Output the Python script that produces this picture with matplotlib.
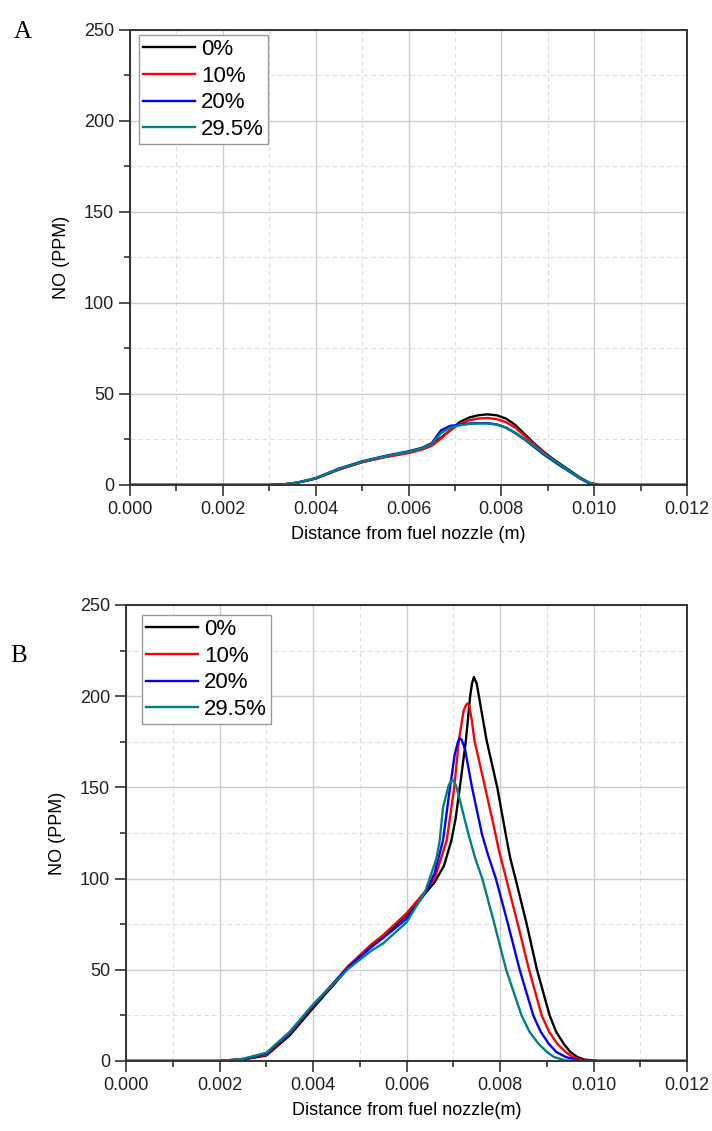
import matplotlib
matplotlib.use("Agg")
import matplotlib.pyplot as plt
from matplotlib.ticker import MultipleLocator, FormatStrFormatter

plt.rcParams['font.family'] = ['Liberation Sans', 'DejaVu Sans']

labels = ['0%', '10%', '20%', '29.5%']
colors = ['#000000', '#ff0000', '#0000ff', '#008080']

# Panel A: NO (ppm) vs distance, shared x grid
xa = [0, 0.0030, 0.0033, 0.0036, 0.0040, 0.0045, 0.0050, 0.0055, 0.0060, 0.0063,
      0.0065, 0.0067, 0.0069, 0.0071, 0.0073, 0.0075, 0.0077, 0.0079, 0.0081, 0.0083,
      0.0085, 0.0087, 0.0089, 0.0091, 0.0093, 0.0095, 0.0097, 0.0099, 0.0101, 0.0120]
a_0 = [0, 0, 0.3, 1.2, 3.5, 8.5, 12.5, 15.5, 18.0, 20.0, 22.0, 26.0, 30.0, 34.5, 37.0,
       38.3, 38.8, 38.3, 36.5, 33.0, 28.0, 23.0, 18.5, 14.5, 11.0, 7.5, 4.0, 1.2, 0, 0]
a_10 = [0, 0, 0.3, 1.2, 3.5, 8.5, 12.5, 15.3, 17.5, 19.5, 21.5, 25.5, 30.0, 33.5, 35.5,
        36.5, 36.8, 36.2, 34.5, 31.5, 27.0, 22.5, 18.0, 14.0, 10.5, 7.0, 3.8, 1.0, 0, 0]
a_20 = [0, 0, 0.3, 1.3, 3.8, 9.0, 13.0, 16.0, 18.5, 20.5, 23.0, 30.0, 32.5, 33.0, 33.8,
        34.0, 34.0, 33.3, 31.5, 28.5, 25.0, 21.0, 17.0, 13.5, 10.0, 6.8, 3.5, 0.8, 0, 0]
a_295 = [0, 0, 0.3, 1.3, 3.7, 8.8, 12.8, 15.8, 18.2, 20.2, 22.5, 28.5, 31.5, 32.8, 33.5,
         33.8, 33.8, 33.2, 31.5, 28.8, 25.3, 21.5, 17.5, 14.0, 10.5, 7.0, 3.8, 1.0, 0, 0]

# Panel B: each case has its own x points (peaks shift)
xb_0 = [0, 0.0020, 0.0025, 0.0030, 0.0035, 0.0040, 0.0045, 0.00475, 0.0050, 0.00525,
        0.0055, 0.0060, 0.0064, 0.0066, 0.0068, 0.00696, 0.00705, 0.00714, 0.00727,
        0.00736, 0.0074, 0.00744, 0.0075, 0.00771, 0.00794, 0.00813, 0.00822, 0.00833,
        0.00857, 0.00879, 0.00906, 0.0092, 0.00936, 0.0095, 0.00965, 0.0098, 0.0101, 0.0120]
b_0 = [0, 0, 0.8, 3.0, 14, 29, 43.5, 51, 57, 63,
       68, 80, 92, 98, 107, 121, 133, 150, 176,
       200, 207, 210.5, 207, 176, 150, 123, 111, 100,
       75, 50, 25, 16, 9.5, 5, 2.2, 0.8, 0, 0]

xb_10 = [0, 0.0020, 0.0025, 0.0030, 0.0035, 0.0040, 0.0045, 0.00475, 0.0050, 0.00525,
         0.0055, 0.0060, 0.0064, 0.0066, 0.00686, 0.00702, 0.00712, 0.00722, 0.00727,
         0.0073, 0.00734, 0.0074, 0.00745, 0.00768, 0.0079, 0.00797, 0.00813, 0.00838,
         0.00862, 0.00889, 0.00905, 0.00922, 0.0094, 0.00955, 0.0098, 0.0100, 0.0120]
b_10 = [0, 0, 1.0, 3.5, 15, 30, 44.5, 52, 58, 64,
        69, 81, 93, 100, 121, 150, 176, 192, 195,
        196, 195, 186, 176, 150, 124.7, 116, 100, 75,
        50, 25, 16, 9.5, 5, 2.2, 0.3, 0, 0]

xb_20 = [0, 0.0020, 0.0025, 0.0030, 0.0035, 0.0040, 0.0045, 0.00475, 0.0050, 0.00525,
         0.0055, 0.0060, 0.0064, 0.0066, 0.00678, 0.00693, 0.00703, 0.0071, 0.00714,
         0.00718, 0.00725, 0.0074, 0.00761, 0.00773, 0.00791, 0.00817, 0.00842, 0.00871,
         0.00887, 0.00904, 0.0092, 0.0094, 0.0097, 0.0099, 0.0120]
b_20 = [0, 0, 1.0, 4.0, 15.5, 30.5, 44.5, 51.5, 57, 62.5,
        67.5, 78, 92, 103, 121, 150, 168, 175, 177,
        176, 171, 150, 124.7, 114, 100, 75, 50, 25,
        16, 9.5, 5, 2.2, 0.3, 0, 0]

xb_295 = [0, 0.0020, 0.0025, 0.0030, 0.0035, 0.0040, 0.0045, 0.00475, 0.0050, 0.00525,
          0.0055, 0.0060, 0.0064, 0.00664, 0.00671, 0.00678, 0.0069, 0.00695, 0.00698,
          0.00702, 0.00706, 0.00714, 0.00732, 0.00747, 0.00762, 0.00788, 0.00813, 0.00846,
          0.00863, 0.00882, 0.0090, 0.00915, 0.0094, 0.0097, 0.0120]
b_295 = [0, 0, 1.2, 4.5, 16, 31, 44, 50.5, 55.5, 60.5,
         64.5, 76, 93, 111, 121, 139, 151, 153.5, 154,
         153, 151, 143, 124.7, 111, 100, 75, 50, 25,
         16, 9.5, 5, 2.2, 0.3, 0, 0]


def style_axes(ax, xlabel):
    ax.set_xlim(0, 0.012)
    ax.set_ylim(0, 250)
    ax.xaxis.set_major_locator(MultipleLocator(0.002))
    ax.xaxis.set_minor_locator(MultipleLocator(0.001))
    ax.yaxis.set_major_locator(MultipleLocator(50))
    ax.yaxis.set_minor_locator(MultipleLocator(25))
    ax.xaxis.set_major_formatter(FormatStrFormatter('%.3f'))
    ax.grid(which='major', color='#cccccc', linewidth=1.0, linestyle='-')
    ax.grid(which='minor', color='#dddddd', linewidth=0.8, linestyle=(0, (4, 3)))
    ax.set_axisbelow(True)
    ax.tick_params(which='major', direction='out', length=8, width=1.2,
                   labelsize=13, colors='#333333', labelcolor='#222222')
    ax.tick_params(which='minor', direction='out', length=4.5, width=1.2, colors='#333333')
    ax.tick_params(top=False, right=False, which='both')
    for s in ax.spines.values():
        s.set_linewidth(1.4)
        s.set_color('#333333')
    ax.set_xlabel(xlabel, fontsize=13, labelpad=6)
    ax.set_ylabel('NO (PPM)', fontsize=13, labelpad=10)


def add_legend(ax, anchor):
    ax.legend(loc='upper left', bbox_to_anchor=anchor, fontsize=16,
              handlelength=2.35, handletextpad=0.27, labelspacing=0.26, borderpad=0.17,
              borderaxespad=0, fancybox=False, edgecolor='#999999', framealpha=1)


fig = plt.figure(figsize=(7.12, 11.31), dpi=100)

ax1 = fig.add_axes([0.1826, 0.5712, 0.7823, 0.4023])
for y, c, l in zip([a_0, a_10, a_20, a_295], colors, labels):
    ax1.plot(xa, y, color=c, linewidth=1.7, label=l)
style_axes(ax1, 'Distance from fuel nozzle (m)')
add_legend(ax1, (0.0167, 0.989))

ax2 = fig.add_axes([0.177, 0.0619, 0.788, 0.4032])
for x, y, c, l in zip([xb_0, xb_10, xb_20, xb_295], [b_0, b_10, b_20, b_295], colors, labels):
    ax2.plot(x, y, color=c, linewidth=1.7, label=l)
style_axes(ax2, 'Distance from fuel nozzle(m)')
add_legend(ax2, (0.029, 0.978))

fig.text(0.02, 0.966, 'A', family='Liberation Serif', fontsize=18)
fig.text(0.014, 0.415, 'B', family='Liberation Serif', fontsize=18)

plt.savefig('out.png', dpi=100)
